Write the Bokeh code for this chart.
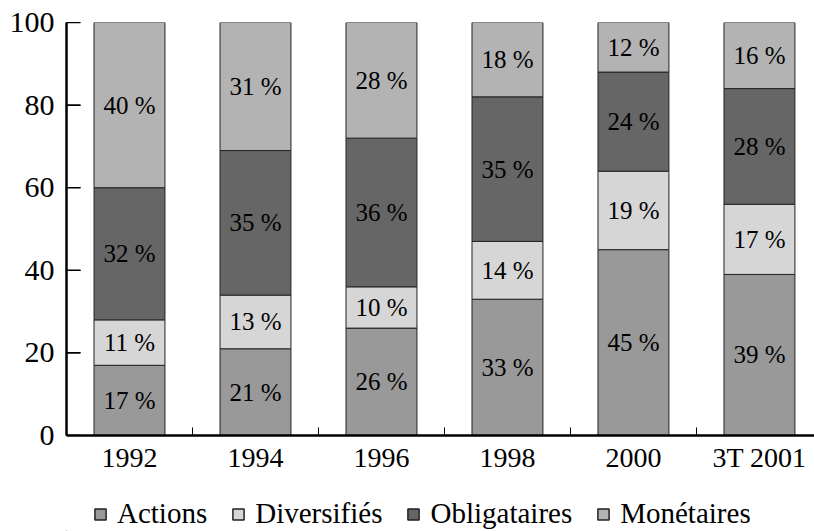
from bokeh.plotting import figure
from bokeh.layouts import column
from bokeh.models import ColumnDataSource, Range1d, FixedTicker, Legend, LegendItem
from bokeh.core.properties import value
from bokeh.embed import file_html
from bokeh.resources import INLINE

categories = ["1992", "1994", "1996", "1998", "2000", "3T 2001"]
actions = [17, 21, 26, 33, 45, 39]
diversifies = [11, 13, 10, 14, 19, 17]
obligataires = [32, 35, 36, 35, 24, 28]
monetaires = [40, 31, 28, 18, 12, 16]
series_names = ["Actions", "Diversifiés", "Obligataires", "Monétaires"]
y_ticks = [0, 20, 40, 60, 80, 100]

colors = ["#999999", "#d6d6d6", "#666666", "#b3b3b3"]
FONT = "Liberation Serif"

xs = list(range(len(categories)))
series = [actions, diversifies, obligataires, monetaires]
keys = ["a", "d", "o", "m"]
data = {"x": xs}
for k, s in zip(keys, series):
    data[k] = s
src = ColumnDataSource(data)

X_START = -0.5
X_END = 5.437
p = figure(width=814, height=475, output_backend="svg", toolbar_location=None,
           x_range=Range1d(X_START, X_END), y_range=Range1d(0, 100),
           min_border_left=66, min_border_right=0, min_border_top=22, min_border_bottom=40)

renderers = p.vbar_stack(keys, x="x", width=0.563, source=src, fill_color=colors,
                         line_color="#222222", line_width=1)

# inward y tick marks (about 14 px long: one slot is ~126 px)
tick_len = 14 / 126
p.segment(x0=[X_START] * len(y_ticks), y0=y_ticks,
          x1=[X_START + tick_len] * len(y_ticks), y1=y_ticks,
          line_color="black", line_width=1.5)

# labels
lx, ly, lt = [], [], []
for i in xs:
    base = 0
    for s in series:
        v = s[i]
        lx.append(i)
        ly.append(base + v / 2)
        lt.append(f"{v} %")
        base += v
p.text(x=lx, y=ly, text=lt, text_font=value(FONT), text_font_size="25px",
       text_align="center", text_baseline="middle", text_color="black")

# axes
p.xgrid.visible = False
p.ygrid.visible = False
p.outline_line_color = None

xa = p.xaxis[0]
xa.ticker = FixedTicker(ticks=xs, minor_ticks=[i + 0.5 for i in xs[:-1]])
xa.major_label_overrides = {i: c for i, c in zip(xs, categories)}
xa.major_tick_in = 0
xa.major_tick_out = 0
xa.minor_tick_in = 8
xa.minor_tick_out = 0
xa.minor_tick_line_color = "black"
xa.axis_line_width = 2.5
xa.axis_line_color = "black"
xa.major_label_text_font = FONT
xa.major_label_text_font_size = "28px"
xa.major_label_text_color = "black"
xa.major_label_standoff = 6

ya = p.yaxis[0]
ya.ticker = FixedTicker(ticks=y_ticks, minor_ticks=[])
ya.major_tick_in = 14
ya.major_tick_out = 0
ya.minor_tick_in = 0
ya.minor_tick_out = 0
ya.major_tick_line_color = "black"
ya.major_tick_line_width = 1.2
ya.axis_line_width = 2.5
ya.axis_line_color = "black"
ya.major_label_text_font = FONT
ya.major_label_text_font_size = "30px"
ya.major_label_text_color = "black"
ya.major_label_standoff = 12

# legend in its own strip below the chart (frames are aligned in a column)
lg = figure(width=814, height=56, output_backend="svg", toolbar_location=None,
            x_range=Range1d(0, 1), y_range=Range1d(0, 1),
            x_axis_location=None, y_axis_location=None,
            min_border_left=66, min_border_right=0, min_border_top=0, min_border_bottom=0)
lg.grid.visible = False
lg.outline_line_color = None
offscreen = ColumnDataSource(dict(x=[-10], top=[-5], bottom=[-6]))
leg_rends = [lg.vbar(x="x", top="top", bottom="bottom", width=0.5, source=offscreen,
                     fill_color=c, line_color="#222222", line_width=1.5) for c in colors]
legend = Legend(items=[LegendItem(label=n, renderers=[r]) for n, r in zip(series_names, leg_rends)],
                orientation="horizontal", location=(27, 1),
                glyph_width=14, glyph_height=14, label_standoff=10, spacing=24,
                label_text_font=FONT, label_text_font_size="29px", label_text_color="black",
                border_line_alpha=0, background_fill_alpha=0, padding=0, margin=0)
lg.add_layout(legend, "center")

layout = column(p, lg, spacing=0)
open("out.html", "w").write(file_html(layout, INLINE))
